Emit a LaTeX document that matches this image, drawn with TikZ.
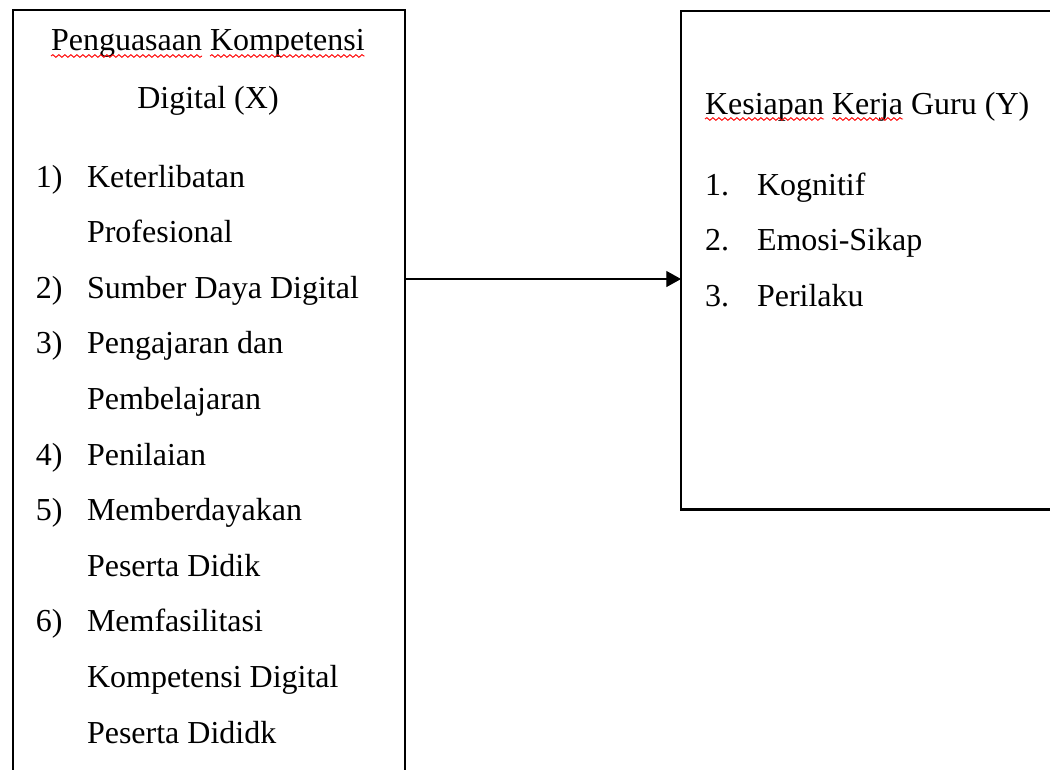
\documentclass[tikz,border=0pt]{standalone}
\usepackage{fontspec}
\setmainfont{Liberation Serif}
\usetikzlibrary{calc,arrows.meta,decorations.pathmorphing}

\begin{document}
\begin{tikzpicture}[x=0.75pt,y=-0.75pt,inner sep=0pt,outer sep=0pt,
    every node/.style={font=\fontsize{24}{28}\selectfont},
    boxnode/.style={draw,line width=2.2pt,anchor=north west},
    squiggle/.style={color=red,line width=0.7pt,decorate,
      decoration={snake,segment length=4.5pt,amplitude=1pt}}]
    \useasboundingbox (0,0) rectangle (1050,769);
    \clip (0,0) rectangle (1050,769);

    % variable X
    \node[boxnode,minimum width=294pt,minimum height=600pt] (x_box) at (13,10) {};
    \node[anchor=base west] (x_peng) at (51,50) {Penguasaan};
    \node[anchor=base west] (x_komp) at ($(x_peng.base east)+(8,0)$) {Kompetensi};
    \node[anchor=base] (x_dig) at (208,108) {Digital (X)};
    \draw[squiggle] ($(x_peng.base west)+(0,6)$) -- ($(x_peng.base east)+(0,6)$);
    \draw[squiggle] ($(x_komp.base west)+(0,6)$) -- ($(x_komp.base east)+(0,6)$);

    \foreach \num/\txt [count=\i from 0] in {1)/Keterlibatan, {}/Profesional,
        2)/Sumber Daya Digital, 3)/Pengajaran dan, {}/Pembelajaran,
        4)/Penilaian, 5)/Memberdayakan, {}/Peserta Didik,
        6)/Memfasilitasi, {}/Kompetensi Digital, {}/Peserta Dididk}
    {
        \node[anchor=base west] (x_num\i) at (36,{187+55.6*\i}) {\num};
        \node[anchor=base west] (x_item\i) at (87,{187+55.6*\i}) {\txt};
    }

    % variable Y
    \node[boxnode,minimum width=300pt,minimum height=374pt] (y_box) at (681,11) {};
    \node[anchor=base west] (y_kes) at (705,114) {Kesiapan};
    \node[anchor=base west] (y_ker) at ($(y_kes.base east)+(8,0)$) {Kerja};
    \node[anchor=base west] (y_guru) at ($(y_ker.base east)+(8,0)$) {Guru (Y)};
    \draw[squiggle] ($(y_kes.base west)+(0,5)$) -- ($(y_kes.base east)+(0,5)$);
    \draw[squiggle] ($(y_ker.base west)+(0,5)$) -- ($(y_ker.base east)+(0,5)$);

    \foreach \num/\txt [count=\i from 0] in {1./Kognitif, 2./Emosi-Sikap, 3./Perilaku}
    {
        \node[anchor=base west] (y_num\i) at (705,{195+55.5*\i}) {\num};
        \node[anchor=base west] (y_item\i) at (757,{195+55.5*\i}) {\txt};
    }

    % X -> Y
    \coordinate (arr_y) at (0,279);
    \draw[line width=0.9pt,-{Triangle[length=11pt,width=12pt]}]
        (x_box.east |- arr_y) -- (y_box.west |- arr_y);
\end{tikzpicture}
\end{document}
